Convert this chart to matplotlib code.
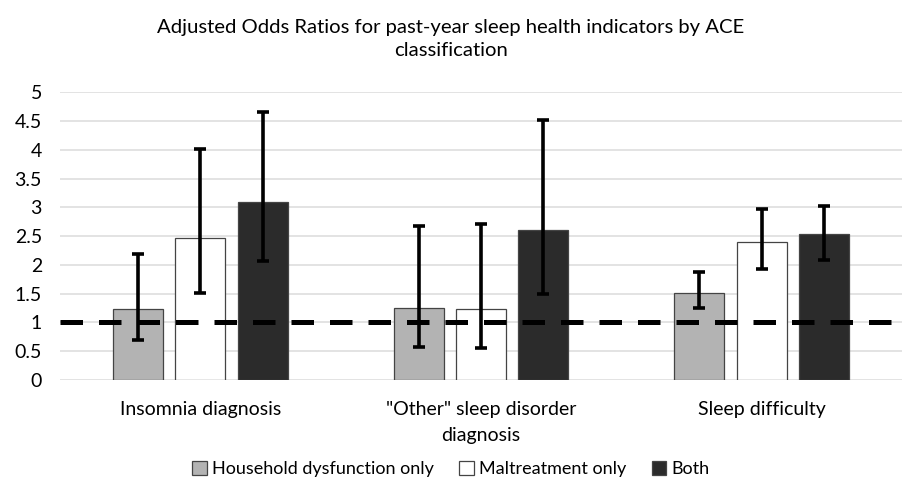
import matplotlib
matplotlib.use("Agg")
import matplotlib.pyplot as plt
import numpy as np
from matplotlib.patches import Patch

plt.rcParams['font.family'] = ['Lato', 'DejaVu Sans']

categories = ["Insomnia diagnosis", "\"Other\" sleep disorder\ndiagnosis", "Sleep difficulty"]
series = ["Household dysfunction only", "Maltreatment only", "Both"]
household = [1.23, 1.25, 1.51]
household_lo = [0.70, 0.58, 1.25]
household_hi = [2.19, 2.68, 1.87]
maltreat = [2.46, 1.23, 2.39]
maltreat_lo = [1.51, 0.56, 1.93]
maltreat_hi = [4.02, 2.71, 2.97]
both = [3.10, 2.60, 2.53]
both_lo = [2.06, 1.50, 2.09]
both_hi = [4.65, 4.52, 3.03]
yticks = [0, 0.5, 1, 1.5, 2, 2.5, 3, 3.5, 4, 4.5, 5]
ytick_labels = ["0", "0.5", "1", "1.5", "2", "2.5", "3", "3.5", "4", "4.5", "5"]
reference = 1

fig = plt.figure(figsize=(9.02, 4.87), dpi=100)
ax = fig.add_axes([60/902, 1-380/487, 842/902, (380-92.3)/487])

x = np.arange(len(categories))
width = 0.178
step = 0.222
colors = ["#b3b3b3", "#ffffff", "#2b2b2b"]
vals = [household, maltreat, both]
los = [household_lo, maltreat_lo, both_lo]
his = [household_hi, maltreat_hi, both_hi]
for i in range(3):
    pos = x + (i - 1) * step
    v = np.array(vals[i]); lo = np.array(los[i]); hi = np.array(his[i])
    ax.bar(pos, v, width, color=colors[i], edgecolor="#444444", linewidth=0.9, zorder=2, label=series[i])
    ax.errorbar(pos, v, yerr=[v - lo, hi - v], fmt='none', ecolor='black', elinewidth=2.6,
                capsize=4, capthick=2.6, zorder=4)

ax.axhline(reference, color='black', linestyle=(0, (4.5, 3.2)), linewidth=3.6, zorder=5)

ax.set_xlim(-0.5, 2.5)
ax.set_ylim(0, 5)
ax.set_yticks(yticks)
ax.set_yticklabels(ytick_labels, fontsize=14)
ax.set_xticks(x)
ax.set_xticklabels(categories, fontsize=14, linespacing=1.65)
ax.tick_params(axis='x', length=0, pad=15)
ax.tick_params(axis='y', length=0, pad=13)
ax.yaxis.grid(True, color='#dedede', linewidth=1.2, zorder=0)
ax.set_axisbelow(True)
for s in ax.spines.values():
    s.set_visible(False)

fig.text(0.5, 1-19/487, "Adjusted Odds Ratios for past-year sleep health indicators by ACE\nclassification",
         ha='center', va='top', fontsize=14.6, linespacing=1.45)

handles = [Patch(facecolor=c, edgecolor="#444444", linewidth=0.9) for c in colors]
fig.legend(handles, series, loc='center', bbox_to_anchor=(0.5, 1-469/487), ncol=3, frameon=False,
           fontsize=13, handlelength=0.8, handleheight=0.8, handletextpad=0.3, columnspacing=1.4)

fig.savefig("out.png", dpi=100)
